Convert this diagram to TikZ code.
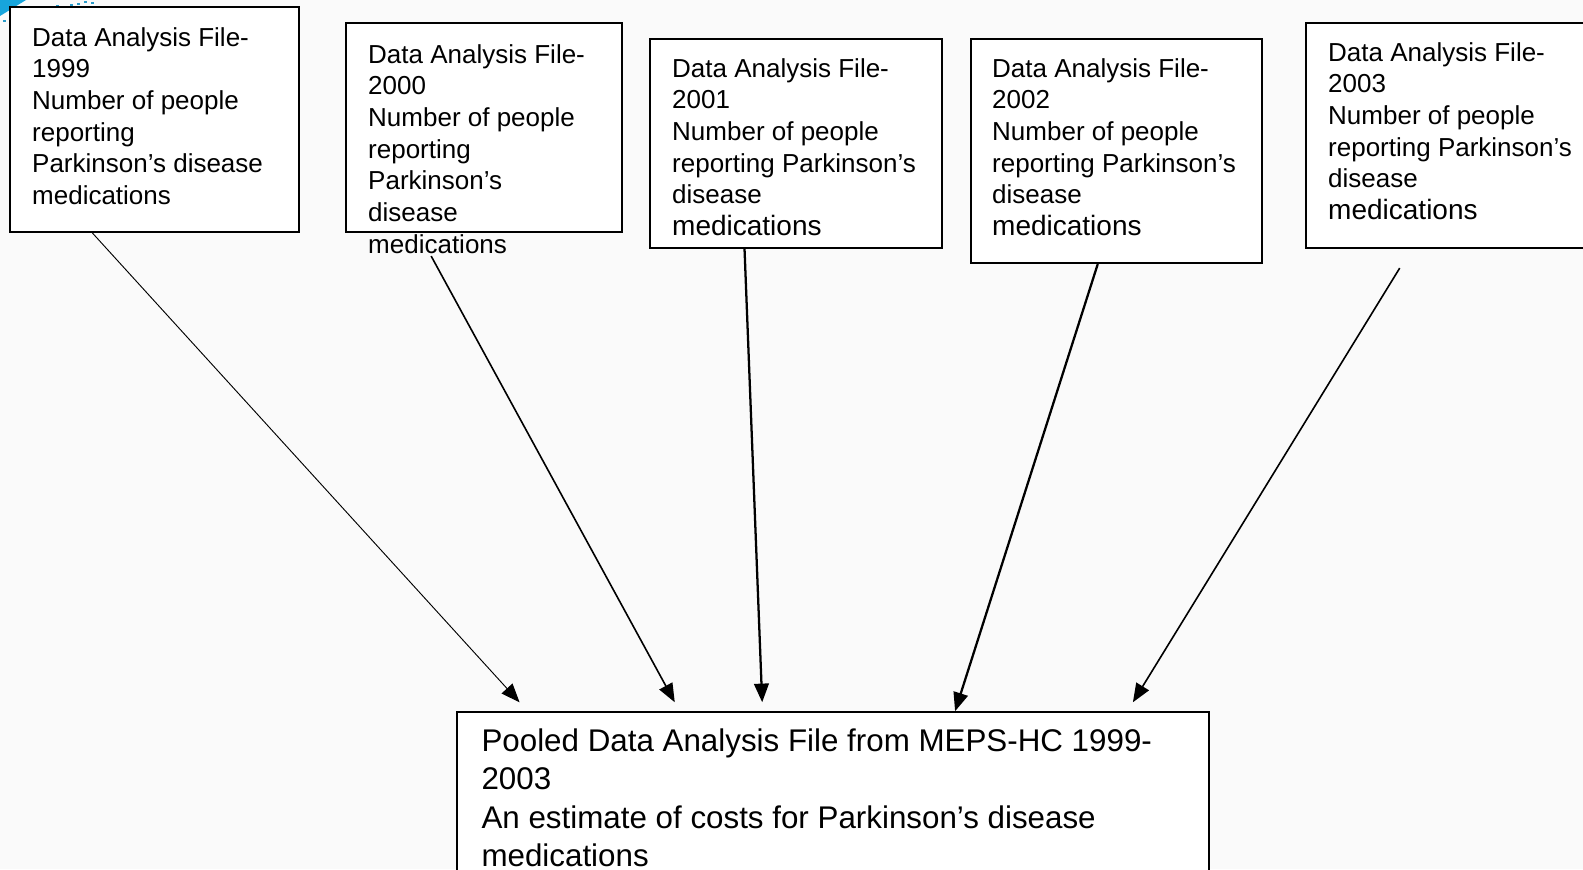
\documentclass[tikz,border=0pt]{standalone}
\usepackage{fontspec}
\setmainfont{Liberation Sans}
\usetikzlibrary{arrows.meta,fit,calc}
\tikzstyle{frame}=[draw,line width=1.6pt,fill=white,inner sep=0]
\tikzstyle{txt}=[anchor=north west,inner sep=0,align=left,font=\fontsize{19.5}{23.8}\selectfont]
\tikzstyle{bigtxt}=[anchor=north west,inner sep=0,align=left,font=\fontsize{23.5}{28.8}\selectfont]
\tikzstyle{arrow}=[->,>={Triangle[length=14pt,width=11pt]}]
\newcommand{\medsline}{{\fontsize{21}{23.8}\selectfont medications}}

\begin{document}
\begin{tikzpicture}[x=0.75pt,y=-0.75pt]
\useasboundingbox (0,0) rectangle (1583,869);
\fill[black!2] (0,0) rectangle (1583,869);
% corner decoration
\fill[cyan!80!teal] (0,0)--(26,0)--(0,16)--cycle;
\foreach \x/\y in {3/20,12/18,56/5,63/6,70/4,77/3,84/1,91/2}
	\fill[cyan!60!teal] (\x,\y) rectangle +(3,2);

% file boxes
\node[frame,fit={(10,7) (299,232)}] (b1) {};
\node[frame,fit={(346,23) (622,232)}] (b2) {};
\node[frame,fit={(650,39) (942,248)}] (b3) {};
\node[frame,fit={(971,39) (1262,263)}] (b4) {};
\node[frame,fit={(1306,23) (1600,248)}] (b5) {};
\node[frame,line width=1.1pt,fit={(457,712) (1209,895)}] (pool) {};

\node[txt] (t1) at ([shift={(23,21)}]b1.north west) {Data Analysis File-\\1999\\Number of people\\reporting\\Parkinson’s disease\\medications};
\node[txt] (t2) at ([shift={(23,22)}]b2.north west) {Data Analysis File-\\2000\\Number of people\\reporting\\Parkinson’s\\disease\\medications};
\node[txt] (t3) at ([shift={(23,20)}]b3.north west) {Data Analysis File-\\2001\\Number of people\\reporting Parkinson’s\\disease\\\medsline};
\node[txt] (t4) at ([shift={(22,20)}]b4.north west) {Data Analysis File-\\2002\\Number of people\\reporting Parkinson’s\\disease\\\medsline};
\node[txt] (t5) at ([shift={(23,20)}]b5.north west) {Data Analysis File-\\2003\\Number of people\\reporting Parkinson’s\\disease\\\medsline};
\node[bigtxt] (tp) at ([shift={(25,17)}]pool.north west) {Pooled Data Analysis File from MEPS-HC 1999-\\2003\\An estimate of costs for Parkinson’s disease\\medications};

% connectors
\coordinate (s1) at ($(b1.south west)!0.287!(b1.south east)$);
\coordinate (s2) at ($(b2.south west)!0.31!(b2.south east)+(0,23)$);
\coordinate (s3) at ($(b3.south west)!0.325!(b3.south east)$);
\coordinate (s4) at ($(b4.south west)!0.436!(b4.south east)$);
\coordinate (s5) at ($(b5.south west)!0.32!(b5.south east)+(0,19)$);
\coordinate (e1) at ($(pool.north west)!0.084!(pool.north east)+(0,-9)$);
\coordinate (e2) at ($(pool.north west)!0.29!(pool.north east)+(0,-9)$);
\coordinate (e3) at ($(pool.north west)!0.406!(pool.north east)+(0,-9)$);
\coordinate (e4) at ($(pool.north west)!0.662!(pool.north east)$);
\coordinate (e5) at ($(pool.north west)!0.898!(pool.north east)+(0,-9)$);
\foreach \i/\w in {1/0.7pt,2/1.2pt,3/1.7pt,4/1.7pt,5/1.2pt}
	\draw[arrow,line width=\w] (s\i)--(e\i);
\end{tikzpicture}
\end{document}
